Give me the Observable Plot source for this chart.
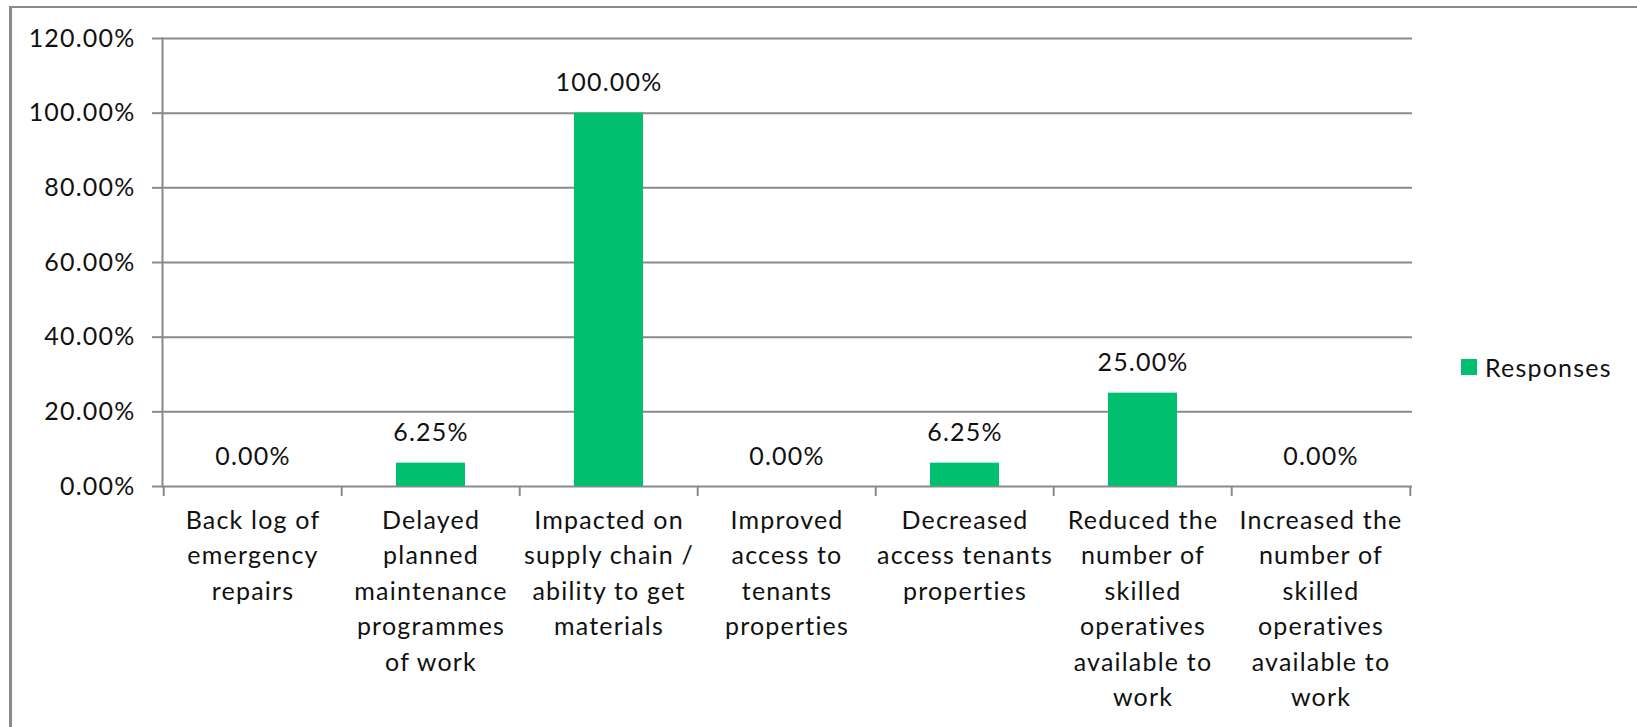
<!DOCTYPE html>
<html>
<head>
<meta charset="utf-8">
<script src="https://cdn.jsdelivr.net/npm/d3@7"></script>
<script src="https://cdn.jsdelivr.net/npm/@observablehq/plot@0.6"></script>
<style>
  html, body { margin: 0; padding: 0; background: #fff; }
  #wrap { position: relative; width: 1637px; height: 727px; overflow: hidden; }
  #frame { position: absolute; left: 9px; top: 6px; width: 1700px; height: 800px;
           border-left: 3px solid #8a8a8a; border-top: 2px solid #8a8a8a; }
  #legend { position: absolute; left: 1461px; top: 352px; display: flex; align-items: center;
            font-family: Lato, sans-serif; font-size: 25px; letter-spacing: 1.2px; color: #111; }
  #legend .sw { width: 16px; height: 16px; margin-right: 8px; }
  #chart { position: absolute; left: 0; top: 0; }
  #chart svg text { letter-spacing: 1.2px; }
</style>
</head>
<body>
<div id="wrap">
  <div id="frame"></div>
  <div id="chart"></div>
  <div id="legend"></div>
</div>
<script>
const categories = [
  "Back log of emergency repairs",
  "Delayed planned maintenance programmes of work",
  "Impacted on supply chain / ability to get materials",
  "Improved access to tenants properties",
  "Decreased access tenants properties",
  "Reduced the number of skilled operatives available to work",
  "Increased the number of skilled operatives available to work"
];
const tickLabels = [
  "Back log of\nemergency\nrepairs",
  "Delayed\nplanned\nmaintenance\nprogrammes\nof work",
  "Impacted on\nsupply chain /\nability to get\nmaterials",
  "Improved\naccess to\ntenants\nproperties",
  "Decreased\naccess tenants\nproperties",
  "Reduced the\nnumber of\nskilled\noperatives\navailable to\nwork",
  "Increased the\nnumber of\nskilled\noperatives\navailable to\nwork"
];
const responses = [0, 6.25, 100, 0, 6.25, 25, 0];
const yTicks = [0, 20, 40, 60, 80, 100, 120];
const seriesName = "Responses";
const green = "#00BF6F";
const gray = "#8a8a8a";

const data = categories.map((c, i) => ({category: c, value: responses[i]}));
const labelOf = new Map(categories.map((c, i) => [c, tickLabels[i]]));

const W = 1637, H = 727;
const mL = 162, mR = 225, mT = 38, mB = 241;
const step = (W - mL - mR) / categories.length;
const font = "Lato, sans-serif";

const chart = Plot.plot({
  width: W,
  height: H,
  marginLeft: mL,
  marginRight: mR,
  marginTop: mT,
  marginBottom: mB,
  style: {fontFamily: font, fontSize: "25px", color: "#111", background: "transparent"},
  x: {domain: categories, paddingInner: 0.61, paddingOuter: 0.305, label: null},
  y: {domain: [0, 120], label: null},
  marks: [
    Plot.gridY(yTicks, {stroke: gray, strokeOpacity: 1, strokeWidth: 2}),
    Plot.axisY(yTicks, {tickSize: 10, tickPadding: 17, stroke: gray, strokeWidth: 2,
      tickFormat: d => d.toFixed(2) + "%", fontSize: 25, fill: "#111", label: null}),
    Plot.frame({anchor: "left", stroke: gray, strokeWidth: 2}),
    Plot.barY(data, {x: "category", y: "value", fill: green}),
    Plot.ruleX(categories, {x: d => d, y1: 0, y2: 0, dx: -step / 2, insetBottom: -10, stroke: gray, strokeWidth: 2}),
    Plot.ruleX(categories.slice(-1), {x: d => d, y1: 0, y2: 0, dx: step / 2, insetBottom: -10, stroke: gray, strokeWidth: 2}),
    Plot.axisX({tickSize: 0, tickPadding: 17, tickFormat: d => labelOf.get(d), fontSize: 25,
      lineHeight: 1.42, fill: "#111", label: null}),
    Plot.text(data, {x: "category", y: "value", text: d => d.value.toFixed(2) + "%", dy: -30,
      fontSize: 25, fill: "#111"})
  ]
});
document.getElementById("chart").appendChild(chart);

const legend = document.getElementById("legend");
const sw = document.createElement("div");
sw.className = "sw";
sw.style.background = green;
const lt = document.createElement("span");
lt.textContent = seriesName;
legend.appendChild(sw);
legend.appendChild(lt);
</script>
</body>
</html>
